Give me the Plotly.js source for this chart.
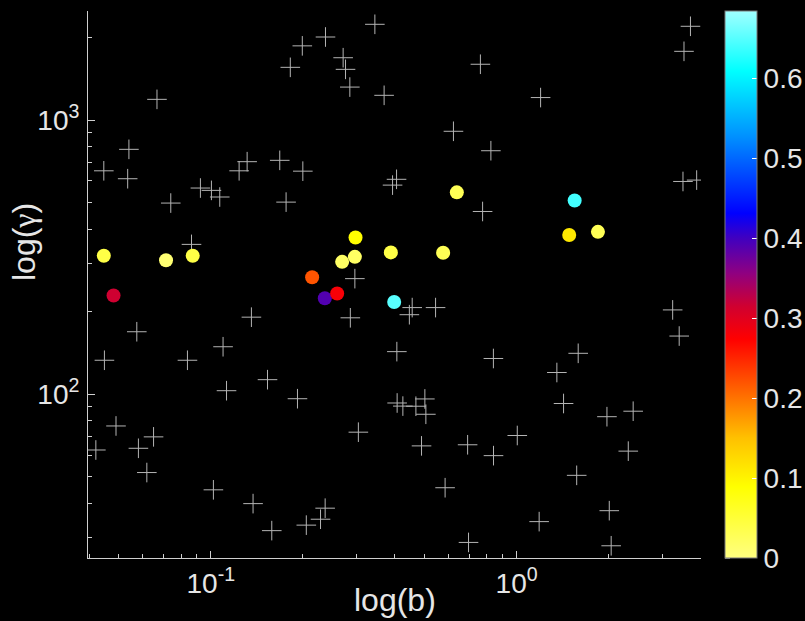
<!DOCTYPE html>
<html>
<head>
<meta charset="utf-8">
<script src="https://cdn.plot.ly/plotly-3.0.1.min.js"></script>
<style>
  html, body { margin: 0; padding: 0; background: #000; }
  #chart { width: 805px; height: 621px; }
</style>
</head>
<body>
<div id="chart"></div>
<script>
// Background population (grey crosses)
const bgB = [0.0667, 0.0540, 0.0447, 0.0535, 0.0740, 0.0925, 0.1005, 0.1070, 0.1238, 0.1315,
             0.1681, 0.1763, 0.1820, 0.0865, 0.3440, 0.2372, 0.1992, 0.2709, 0.2758, 0.2849,
             0.3688, 0.7614, 0.6216, 0.8240, 0.2000, 0.4050, 0.3930, 0.7741, 0.2959, 3.702,
             3.526, 1.198, 3.499, 3.879, 0.1358, 0.0573, 0.1097, 0.0449, 0.0839, 0.1533,
             0.1126, 0.0490, 0.0650, 0.0421, 0.0580, 0.0618, 0.1020, 0.1375, 0.1583, 0.2860,
             0.4556, 0.4460, 0.5433, 0.4059, 0.8397, 0.1921, 0.4068, 0.4247, 0.4685, 0.5012,
             0.5050, 0.3038, 0.4888, 0.6915, 0.8403, 0.5837, 0.2366, 0.2285, 0.2053, 0.6963,
             3.238, 3.401, 1.590, 1.354, 1.424, 1.974, 2.405, 1.005, 2.318, 1.572,
             2.009, 1.185, 2.038];
const bgGamma = [1190, 782, 653, 611, 498, 565, 554, 524, 653, 705,
                 713, 502, 1557, 352, 2235, 2009, 1865, 1688, 1531, 1319,
                 1231, 1598, 910, 773, 651, 608, 579, 464, 264, 2198,
                 1781, 1208, 597, 604, 191, 169, 149, 133, 133, 113,
                 103, 76.6, 69.9, 62.6, 63.5, 51.8, 44.8, 39.9, 31.8, 190,
                 207, 195, 207, 143, 135, 96.3, 92.9, 90.5, 90.4, 96.1,
                 84.5, 72.7, 64.8, 65.4, 59.7, 45.6, 38.4, 35.0, 33.3, 28.8,
                 203, 163, 141, 120, 92.5, 82.8, 86.7, 70.7, 62.0, 50.6,
                 37.6, 34.3, 28.0];

// Selected subset, coloured by the third quantity
const selB = [0.0447, 0.0714, 0.0873, 0.0481, 0.2145, 0.2360, 0.2590, 0.2689, 0.2959,
              0.2974, 0.3880, 0.3978, 0.5751, 0.6376, 1.486, 1.548, 1.845];
const selGamma = [320, 308, 320, 229, 267, 224, 233, 304, 317,
                  373, 329, 217, 328, 545, 381, 509, 391];
const selValue = [0.04, 0.01, 0.04, 0.315, 0.22, 0.39, 0.28, 0.02, 0.02,
                  0.09, 0.04, 0.65, 0.03, 0.03, 0.11, 0.64, 0.03];

// Axis ticks
const xTickVals = [0.1, 1];
const xTickText = ['10<sup>-1</sup>', '10<sup>0</sup>'];
const yTickVals = [100, 1000];
const yTickText = ['10<sup>2</sup>', '10<sup>3</sup>'];

// Colour bar
const cbTickVals = [0, 0.1, 0.2, 0.3, 0.4, 0.5, 0.6];
const cbTickText = ['0', '0.1', '0.2', '0.3', '0.4', '0.5', '0.6'];
const cMin = 0, cMax = 0.684;

const colorscale = [
  [0.00, '#ffff80'],
  [0.13, '#ffff00'],
  [0.22, '#ffc000'],
  [0.28, '#ff8000'],
  [0.34, '#ff4000'],
  [0.40, '#ff0000'],
  [0.46, '#d00030'],
  [0.52, '#900080'],
  [0.585, '#4000c0'],
  [0.63, '#0000ff'],
  [0.77, '#0090ff'],
  [0.89, '#00ffff'],
  [1.00, '#a0ffff']
];

const textColor = '#e6e6e6';
const axisColor = '#cfcfcf';
const fontFamily = '"Liberation Sans", Arial, Helvetica, sans-serif';
const tickSize = 28;
const titleSize = 32;

// geometry of the plotting area (pixels)
const M = { l: 88, r: 104, t: 11, b: 63 };
const W = 805, H = 621;
const plotW = W - M.l - M.r, plotH = H - M.t - M.b;
const cbLeftPx = 725, cbThick = 32;
const cbX = (cbLeftPx - M.l) / plotW;
const pxToPaperY = py => (M.t + plotH - py) / plotH;
const pxToPaperX = px => (px - M.l) / plotW;

const crosses = {
  type: 'scatter', mode: 'markers',
  x: bgB, y: bgGamma,
  marker: { symbol: 'cross-thin', size: 14, line: { color: '#b4b4b4', width: 1 } },
  hoverinfo: 'x+y', showlegend: false
};

const dots = {
  type: 'scatter', mode: 'markers',
  x: selB, y: selGamma,
  marker: {
    symbol: 'circle', size: 14,
    color: selValue, cmin: cMin, cmax: cMax,
    colorscale: colorscale,
    line: { width: 0 },
    showscale: true,
    colorbar: {
      x: cbX, xanchor: 'left', xpad: 0,
      y: 0.5, yanchor: 'middle', ypad: 0,
      len: 1, lenmode: 'fraction',
      thickness: cbThick, thicknessmode: 'pixels',
      outlinecolor: '#7a7a7a', outlinewidth: 1,
      borderwidth: 0,
      tickmode: 'array', tickvals: cbTickVals, ticktext: cbTickText,
      ticks: 'inside', ticklen: 5, tickcolor: '#ffffff', tickwidth: 1,
      ticklabelstandoff: 0,
      tickfont: { family: fontFamily, size: tickSize, color: textColor }
    }
  },
  showlegend: false
};

const axisCommon = {
  type: 'log',
  tickmode: 'array',
  showgrid: false, zeroline: false,
  showline: true, linecolor: axisColor, linewidth: 1,
  ticks: 'inside', ticklen: 7, tickcolor: axisColor, tickwidth: 1,
  minor: { dtick: 'D1', ticks: 'inside', ticklen: 4, tickcolor: axisColor, showgrid: false },
  tickfont: { family: fontFamily, size: tickSize, color: textColor },
  mirror: false
};

// matching tick marks on the left edge of the colour bar
const cbShapes = cbTickVals.map(v => ({
  type: 'line', xref: 'paper', yref: 'paper',
  x0: cbX, x1: cbX + 5 / plotW,
  y0: (v - cMin) / (cMax - cMin), y1: (v - cMin) / (cMax - cMin),
  line: { color: '#ffffff', width: 1 }
}));

const layout = {
  width: W, height: H,
  paper_bgcolor: '#000', plot_bgcolor: '#000',
  margin: Object.assign({ autoexpand: false }, M),
  font: { family: fontFamily, color: textColor },
  xaxis: Object.assign({}, axisCommon, {
    range: [-1.4014, 0.6029],
    tickvals: xTickVals, ticktext: xTickText,
    ticklabelstandoff: 0
  }),
  yaxis: Object.assign({}, axisCommon, {
    range: [1.4026, 3.3978],
    tickvals: yTickVals, ticktext: yTickText,
    ticklabelstandoff: 2
  }),
  shapes: cbShapes,
  annotations: [
    {
      text: 'log(b)', xref: 'paper', yref: 'paper',
      x: 0.5, xanchor: 'center',
      y: pxToPaperY(600), yanchor: 'middle',
      showarrow: false,
      font: { family: fontFamily, size: titleSize, color: textColor }
    },
    {
      text: 'log(<span style="font-family:\'Liberation Serif\'">γ</span>)',
      xref: 'paper', yref: 'paper',
      x: pxToPaperX(24), xanchor: 'center',
      y: pxToPaperY(242), yanchor: 'middle',
      textangle: -90,
      showarrow: false,
      font: { family: fontFamily, size: titleSize, color: textColor }
    }
  ]
};

Plotly.newPlot('chart', [crosses, dots], layout, { displayModeBar: false, staticPlot: true });
</script>
</body>
</html>
